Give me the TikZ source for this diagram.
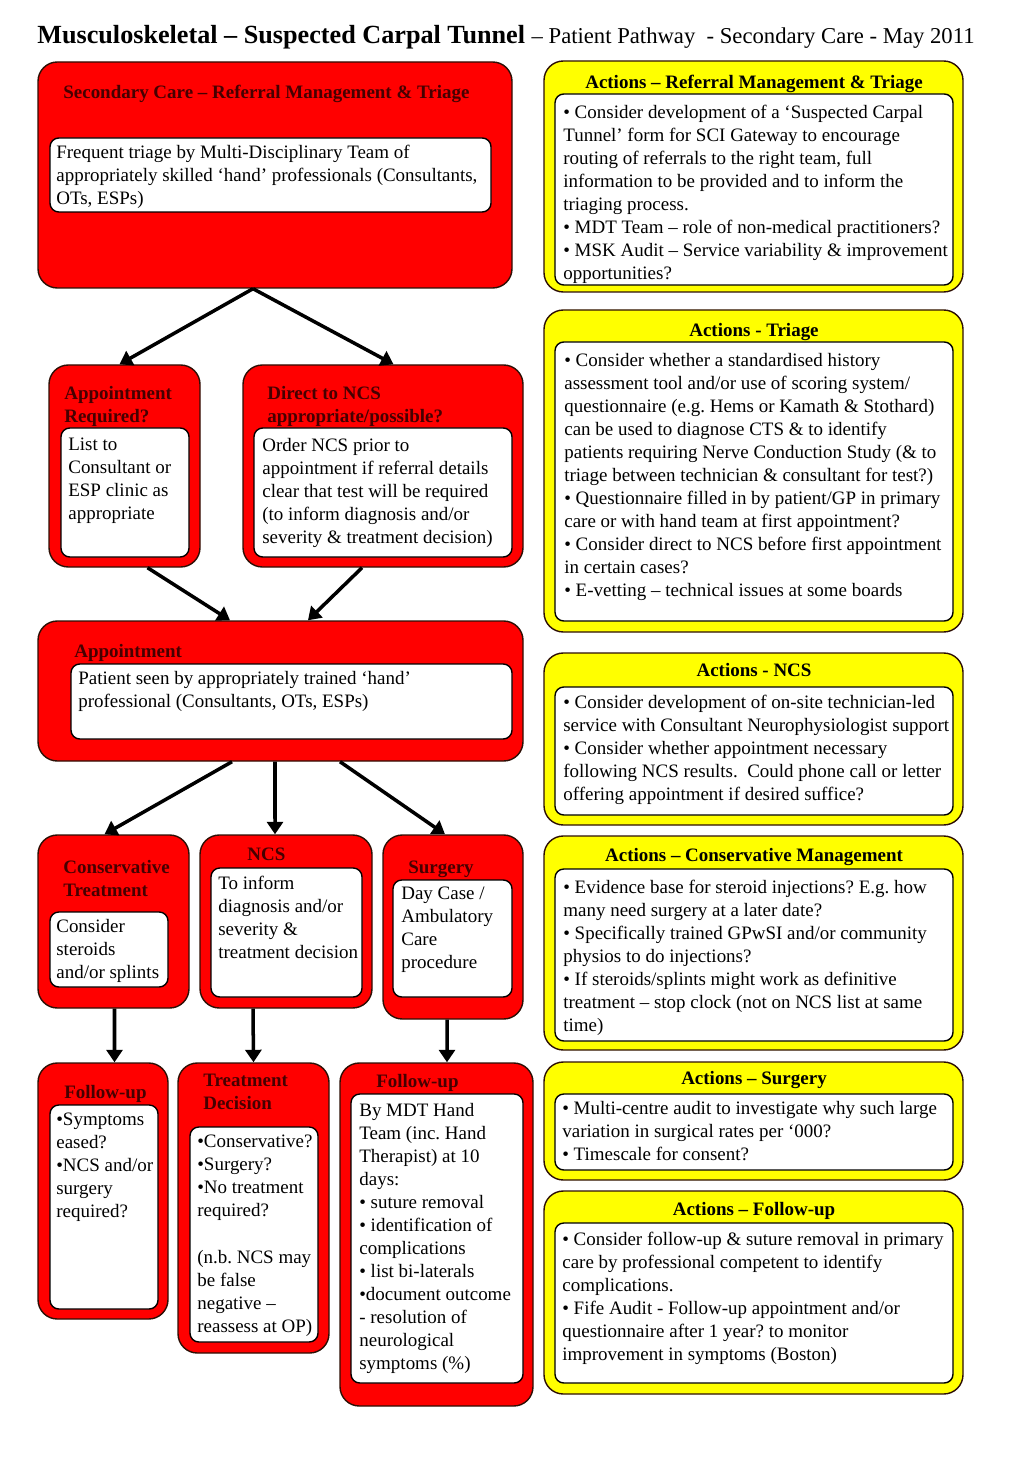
\documentclass[tikz,border=0pt]{standalone}
\usepackage{fontspec}
\setmainfont{Liberation Serif}
\usetikzlibrary{arrows.meta, positioning, fit}
\definecolor{boxred}{RGB}{255,0,0}
\definecolor{boxyel}{RGB}{255,255,0}
\definecolor{headred}{RGB}{70,0,0}
\definecolor{edge}{RGB}{45,15,5}
\newcommand{\diagfont}{\fontsize{10.8}{13.1}\selectfont}
\frenchspacing

\begin{document}
\begin{tikzpicture}[x=0.02cm, y=-0.02cm,
  redbox/.style={draw=edge, line width=0.8pt, fill=boxred, rounded corners=11pt, inner sep=0pt},
  yelbox/.style={draw=edge, line width=0.8pt, fill=boxyel, rounded corners=11pt, inner sep=0pt},
  inbox/.style={draw=black, line width=0.8pt, fill=white, rounded corners=5pt, inner sep=0pt},
  head/.style={anchor=north west, inner sep=0pt, align=left, text=headred, font=\diagfont\bfseries},
  ahead/.style={anchor=north, inner sep=0pt, font=\diagfont\bfseries},
  body/.style={anchor=north west, inner sep=0pt, align=left, font=\diagfont},
  arrow/.style={-{Triangle[length=2.5mm, width=3.2mm]}, line width=2pt}]

  \useasboundingbox (0,0) rectangle (1024,1479);

  \node[anchor=base west, inner sep=0pt] (title) at (37,44)
    {\fontsize{14.9}{18}\selectfont\bfseries Musculoskeletal – Suspected Carpal Tunnel
     \fontsize{12.9}{15}\selectfont\mdseries– Patient Pathway\ \ - Secondary Care - May 2011};

  % pathway (left column)
  \node[redbox, fit={(38,62) (512,288)}] (sc) {};
  \node[inbox, fit={(50,138) (491,212)}] (scin) {};
  \node[head] (schd) at (63,85) {Secondary Care – Referral Management \& Triage};
  \node[body] (sctx) at (56,145) {Frequent triage by Multi-Disciplinary Team of\\
    appropriately skilled ‘hand’ professionals (Consultants,\\OTs, ESPs)};

  \node[redbox, fit={(49,365) (200,567)}] (apreq) {};
  \node[inbox, fit={(61,428) (189,557)}] (apreqin) {};
  \node[head] (apreqhd) at (64,386) {Appointment\\Required?};
  \node[body] (apreqtx) at (68,438) {List to\\Consultant or\\ESP clinic as\\appropriate};

  \node[redbox, fit={(243,365) (523,567)}] (dncs) {};
  \node[inbox, fit={(254,428) (512,557)}] (dncsin) {};
  \node[head] (dncshd) at (267,386) {Direct to NCS\\appropriate/possible?};
  \node[body] (dncstx) at (262,438) {Order NCS prior to\\appointment if referral details\\
    clear that test will be required\\(to inform diagnosis and/or\\severity \& treatment decision)};

  \node[redbox, fit={(38,621) (523,761)}] (appt) {};
  \node[inbox, fit={(71,664) (512,739)}] (apptin) {};
  \node[head] (appthd) at (74,644) {Appointment};
  \node[body] (appttx) at (78,671) {Patient seen by appropriately trained ‘hand’\\
    professional (Consultants, OTs, ESPs)};

  \node[redbox, fit={(38,835) (189,1008)}] (cons) {};
  \node[inbox, fit={(50,912) (168,987)}] (consin) {};
  \node[head] (conshd) at (63,860) {Conservative\\Treatment};
  \node[body] (constx) at (56,919) {Consider\\steroids\\and/or splints};

  \node[redbox, fit={(200,835) (372,1008)}] (ncs) {};
  \node[inbox, fit={(211,868) (362,997)}] (ncsin) {};
  \node[head] (ncshd) at (247,848) {NCS};
  \node[body] (ncstx) at (218,876) {To inform\\diagnosis and/or\\severity \&\\treatment decision};

  \node[redbox, fit={(383,835) (523,1019)}] (surg) {};
  \node[inbox, fit={(393,880) (512,997)}] (surgin) {};
  \node[head] (surghd) at (408,861) {Surgery};
  \node[body] (surgtx) at (401,887) {Day Case /\\Ambulatory\\Care\\procedure};

  \node[redbox, fit={(38,1063) (168,1319)}] (fu1) {};
  \node[inbox, fit={(50,1105) (158,1309)}] (fu1in) {};
  \node[head] (fu1hd) at (64,1085) {Follow-up};
  \node[body] (fu1tx) at (56,1113) {•Symptoms\\eased?\\•NCS and/or\\surgery\\required?};

  \node[redbox, fit={(178,1063) (329,1353)}] (td) {};
  \node[inbox, fit={(190,1127) (318,1342)}] (tdin) {};
  \node[head] (tdhd) at (203,1074) {Treatment\\Decision};
  \node[body] (tdtx) at (197,1135) {•Conservative?\\•Surgery?\\•No treatment\\required?\\[13.1pt]
    (n.b. NCS may\\be false\\negative –\\reassess at OP)};

  \node[redbox, fit={(340,1063) (533,1406)}] (fu2) {};
  \node[inbox, fit={(351,1094) (523,1383)}] (fu2in) {};
  \node[head] (fu2hd) at (376,1074) {Follow-up};
  \node[body] (fu2tx) at (359,1103) {By MDT Hand\\Team (inc. Hand\\Therapist) at 10\\days:\\
    • suture removal\\• identification of\\complications\\• list bi-laterals\\
    •document outcome\\- resolution of\\neurological\\symptoms (\%)};

  % actions (right column)
  \node[yelbox, fit={(544,61) (963,292)}] (actref) {};
  \node[inbox, fit={(555,94) (953,285)}] (actrefin) {};
  \node[ahead] (actrefhd) at (754,75) {Actions – Referral Management \& Triage};
  \node[body] (actreftx) at (563,105) {• Consider development of a ‘Suspected Carpal\\
    Tunnel’ form for SCI Gateway to encourage\\routing of referrals to the right team, full\\
    information to be provided and to inform the\\triaging process.\\
    • MDT Team – role of non-medical practitioners?\\
    • MSK Audit – Service variability \& improvement\\opportunities?};

  \node[yelbox, fit={(544,310) (963,632)}] (acttri) {};
  \node[inbox, fit={(555,342) (953,621)}] (acttriin) {};
  \node[ahead] (acttrihd) at (754,323) {Actions - Triage};
  \node[body] (acttritx) at (564,353) {• Consider whether a standardised history\\
    assessment tool and/or use of scoring system/\\
    questionnaire (e.g. Hems or Kamath \& Stothard)\\
    can be used to diagnose CTS \& to identify\\
    patients requiring Nerve Conduction Study (\& to\\
    triage between technician \& consultant for test?)\\
    • Questionnaire filled in by patient/GP in primary\\
    care or with hand team at first appointment?\\
    • Consider direct to NCS before first appointment\\in certain cases?\\
    • E-vetting – technical issues at some boards};

  \node[yelbox, fit={(544,653) (963,825)}] (actncs) {};
  \node[inbox, fit={(555,687) (953,815)}] (actncsin) {};
  \node[ahead] (actncshd) at (754,663) {Actions - NCS};
  \node[body] (actncstx) at (563,695) {• Consider development of on-site technician-led\\
    service with Consultant Neurophysiologist support\\
    • Consider whether appointment necessary\\
    following NCS results.\ \ Could phone call or letter\\
    offering appointment if desired suffice?};

  \node[yelbox, fit={(544,836) (963,1050)}] (actcons) {};
  \node[inbox, fit={(555,869) (953,1041)}] (actconsin) {};
  \node[ahead] (actconshd) at (754,848) {Actions – Conservative Management};
  \node[body] (actconstx) at (563,880) {• Evidence base for steroid injections? E.g. how\\
    many need surgery at a later date?\\
    • Specifically trained GPwSI and/or community\\physios to do injections?\\
    • If steroids/splints might work as definitive\\
    treatment – stop clock (not on NCS list at same\\time)};

  \node[yelbox, fit={(544,1062) (963,1180)}] (actsurg) {};
  \node[inbox, fit={(555,1094) (953,1170)}] (actsurgin) {};
  \node[ahead] (actsurghd) at (754,1071) {Actions – Surgery};
  \node[body] (actsurgtx) at (562,1101) {• Multi-centre audit to investigate why such large\\
    variation in surgical rates per ‘000?\\• Timescale for consent?};

  \node[yelbox, fit={(544,1191) (963,1394)}] (actfu) {};
  \node[inbox, fit={(555,1223) (953,1383)}] (actfuin) {};
  \node[ahead] (actfuhd) at (754,1202) {Actions – Follow-up};
  \node[body] (actfutx) at (562,1232) {• Consider follow-up \& suture removal in primary\\
    care by professional competent to identify\\complications.\\
    • Fife Audit - Follow-up appointment and/or\\
    questionnaire after 1 year? to monitor\\improvement in symptoms (Boston)};

  \draw[arrow] ([xshift=-0.44cm]sc.south) -- ([xshift=-0.1cm]apreq.north);
  \draw[arrow] ([xshift=-0.44cm]sc.south) -- ([xshift=0.21cm]dncs.north);
  \draw[arrow] ([xshift=0.46cm]apreq.south) -- ([xshift=-1.01cm]appt.north);
  \draw[arrow] ([xshift=-0.42cm]dncs.south) -- ([xshift=0.55cm]appt.north);
  \draw[arrow] ([xshift=-0.97cm]appt.south) -- ([xshift=-0.18cm]cons.north);
  \draw[arrow] ([xshift=-0.11cm]appt.south) -- ([xshift=-0.22cm]ncs.north);
  \draw[arrow] ([xshift=1.19cm]appt.south) -- ([xshift=-0.16cm]surg.north);
  \draw[arrow] ([xshift=0.02cm]cons.south) -- ([xshift=0.23cm]fu1.north);
  \draw[arrow] ([xshift=-0.66cm]ncs.south) -- (td.north);
  \draw[arrow] ([xshift=-0.12cm]surg.south) -- ([xshift=0.21cm]fu2.north);
\end{tikzpicture}
\end{document}
